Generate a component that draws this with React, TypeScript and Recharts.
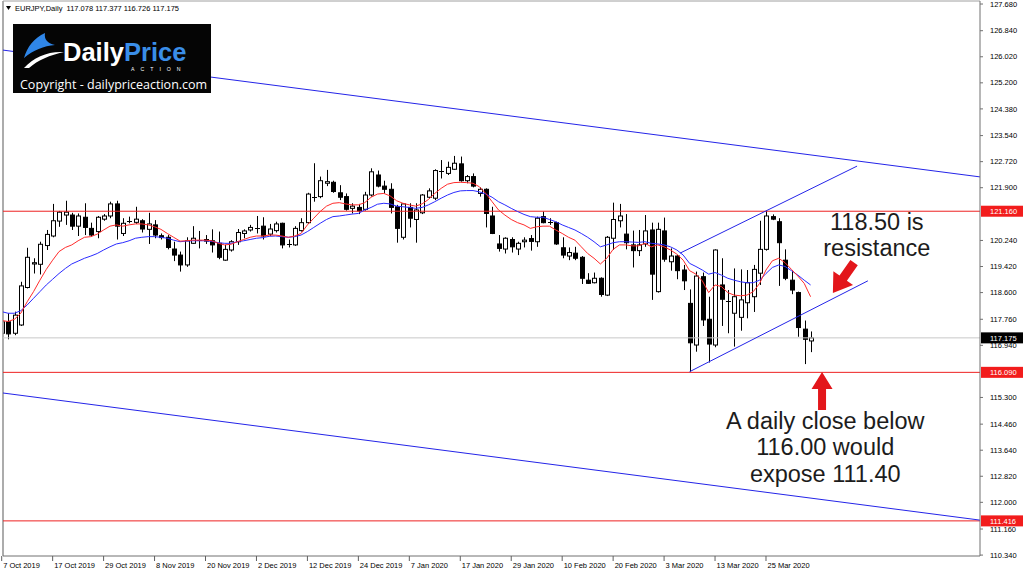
import React from 'react';
import { ComposedChart, Bar, Line, XAxis, YAxis, ReferenceLine, ReferenceDot } from 'recharts';

const opens = [117.32,117.68,117.32,117.58,118.76,119.50,119.49,120.08,120.38,120.85,121.04,121.04,120.69,120.97,120.62,120.52,120.91,121.01,121.39,120.46,120.84,120.81,120.86,120.59,120.73,120.39,120.34,119.97,119.78,119.47,120.15,120.23,120.27,120.23,120.15,119.62,119.94,120.20,120.46,120.57,120.61,120.69,120.44,120.55,120.78,120.13,120.10,120.55,120.80,121.58,121.62,122.04,122.07,121.74,121.62,121.25,121.28,121.22,121.67,122.30,121.95,121.85,121.30,120.34,121.28,120.90,121.11,121.60,121.57,122.39,122.35,122.48,122.65,122.12,122.25,121.72,121.85,121.01,120.13,119.97,120.27,119.97,120.20,120.30,120.20,120.99,120.81,120.80,120.01,119.75,119.84,119.71,118.99,118.91,119.05,118.52,120.31,120.86,120.44,120.10,119.92,120.13,120.57,118.63,120.54,119.57,119.75,119.31,118.26,116.95,119.10,117.76,116.95,118.84,118.34,117.95,117.82,118.28,118.47,119.21,119.96,120.99,120.83,119.62,118.99,118.60,117.45,117.078];
const highs = [117.79,117.95,118.00,118.94,120.01,119.68,120.20,120.57,121.39,121.17,121.49,121.11,121.09,121.41,120.80,121.01,121.07,121.46,121.49,120.94,120.99,121.30,120.91,121.11,120.88,120.46,120.41,120.20,119.89,120.34,120.69,120.54,120.41,120.59,120.52,120.10,120.25,120.60,120.59,120.73,121.01,120.97,120.76,120.83,120.80,120.27,120.69,120.94,121.74,122.67,122.25,122.46,122.12,121.98,121.72,121.41,121.39,121.77,122.51,122.44,122.12,122.04,121.36,121.41,121.41,121.41,121.70,121.88,122.48,122.77,122.72,122.90,122.88,122.30,122.35,121.91,121.88,121.30,120.41,120.34,120.34,120.20,120.34,120.41,120.99,121.15,120.94,120.83,120.34,120.02,120.04,119.75,119.21,119.23,119.08,120.38,121.43,121.39,121.07,120.55,120.57,121.04,120.80,120.80,120.96,119.99,119.78,119.47,118.70,119.26,119.23,118.47,119.96,119.68,118.68,119.36,119.33,119.31,119.47,120.86,121.18,121.06,120.94,119.96,119.31,118.63,117.72,117.377];
const lows = [117.16,117.13,117.26,117.55,118.73,119.20,119.17,119.94,120.34,120.67,120.73,120.57,120.38,120.41,120.36,120.31,120.86,120.94,120.27,120.38,120.78,120.76,120.49,120.13,120.31,120.27,119.96,119.59,119.26,119.41,120.13,119.99,120.13,119.86,119.65,119.60,119.89,120.10,120.31,120.52,120.46,120.27,120.38,120.49,119.99,120.02,120.07,120.52,120.76,121.46,121.57,121.95,121.74,121.51,121.18,121.09,121.07,121.18,121.62,121.91,121.72,121.09,120.17,120.27,120.65,120.17,121.07,121.57,121.51,122.19,122.30,122.46,122.09,122.04,121.91,121.62,120.65,120.44,119.89,119.83,119.86,119.78,120.02,119.92,120.04,120.78,120.73,120.10,119.68,119.62,119.62,118.87,118.87,118.89,118.47,118.49,119.94,120.65,119.96,119.39,119.75,120.04,118.37,118.60,119.57,119.29,119.02,118.68,116.11,116.74,117.55,116.40,116.88,117.55,117.32,116.90,117.40,117.79,117.99,118.84,119.92,120.88,118.81,118.99,118.55,117.21,116.35,116.726];
const closes = [117.68,117.30,117.89,118.81,119.71,119.54,120.12,120.43,120.86,121.13,121.13,120.69,121.01,120.65,120.41,120.97,121.01,121.39,120.69,120.78,120.86,120.91,120.60,120.76,120.41,120.33,120.02,119.78,119.47,120.23,120.31,120.26,120.22,120.10,119.71,119.96,120.20,120.49,120.54,120.65,120.63,120.38,120.60,120.76,120.10,120.11,120.62,120.80,121.70,121.60,122.12,122.09,121.78,121.60,121.22,121.32,121.17,121.67,122.40,121.95,121.85,121.28,120.62,121.39,120.94,121.20,121.67,121.80,122.44,122.41,122.54,122.67,122.12,122.25,121.95,121.85,121.09,120.46,119.99,120.31,120.04,120.15,120.25,120.21,120.94,120.80,120.79,120.13,119.78,119.86,119.68,119.05,118.89,119.05,118.54,120.34,120.90,121.01,120.17,119.92,120.10,120.54,119.18,120.59,119.65,119.75,119.29,118.97,117.02,119.12,117.74,116.98,119.94,118.39,118.32,118.47,118.37,118.91,119.33,119.96,121.01,120.91,120.17,119.05,118.68,117.50,117.13,117.175];
const fastMA = [117.72,117.69,117.76,117.95,118.31,118.63,118.99,119.33,119.62,119.89,120.02,120.10,120.23,120.34,120.36,120.44,120.57,120.69,120.73,120.69,120.73,120.76,120.76,120.73,120.67,120.59,120.46,120.34,120.22,120.23,120.25,120.25,120.25,120.23,120.15,120.10,120.12,120.20,120.27,120.34,120.38,120.38,120.41,120.41,120.38,120.34,120.38,120.46,120.73,120.94,121.15,121.32,121.41,121.43,121.39,121.36,121.36,121.43,121.60,121.70,121.72,121.64,121.49,121.41,121.36,121.32,121.39,121.53,121.72,121.88,122.01,122.06,122.07,122.06,122.04,121.93,121.72,121.46,121.20,121.04,120.90,120.80,120.73,120.62,120.67,120.69,120.69,120.57,120.46,120.34,120.25,120.04,119.83,119.68,119.50,119.68,119.96,120.10,120.10,120.07,120.07,120.15,120.04,120.10,120.04,119.94,119.81,119.62,119.29,119.18,118.97,118.60,118.84,118.79,118.60,118.52,118.50,118.52,118.63,118.89,119.31,119.60,119.68,119.54,119.33,119.12,118.89,118.47];
const slowMA = [118.00,117.95,117.95,118.03,118.21,118.42,118.63,118.84,119.02,119.20,119.36,119.50,119.59,119.68,119.75,119.83,119.94,120.04,120.13,120.17,120.23,120.31,120.34,120.36,120.36,120.34,120.31,120.25,120.20,120.22,120.23,120.23,120.23,120.21,120.17,120.15,120.15,120.20,120.23,120.27,120.31,120.33,120.37,120.38,120.36,120.34,120.36,120.41,120.52,120.65,120.78,120.90,120.99,121.01,121.04,121.07,121.09,121.20,121.28,121.38,121.41,121.39,121.32,121.30,121.28,121.25,121.28,121.36,121.46,121.57,121.67,121.75,121.80,121.81,121.81,121.77,121.70,121.60,121.46,121.36,121.25,121.15,121.06,120.99,120.97,120.97,120.90,120.83,120.73,120.65,120.57,120.46,120.34,120.20,120.04,120.10,120.17,120.20,120.20,120.19,120.18,120.20,120.15,120.13,120.10,120.04,119.94,119.78,119.52,119.42,119.31,119.18,119.23,119.15,119.05,118.99,118.94,118.91,118.91,118.99,119.20,119.39,119.47,119.42,119.29,119.15,118.99,118.84];

const dateTicks = [0, 8, 16, 24, 32, 40, 48, 56, 64, 72, 80, 88, 96, 104, 112, 120];
const dateLabels = ['7 Oct 2019','17 Oct 2019','29 Oct 2019','8 Nov 2019','20 Nov 2019','2 Dec 2019','12 Dec 2019','24 Dec 2019','7 Jan 2020','17 Jan 2020','29 Jan 2020','10 Feb 2020','20 Feb 2020','3 Mar 2020','13 Mar 2020','25 Mar 2020'];
const priceTicks = [127.68,126.84,126.02,125.2,124.38,123.54,122.72,121.9,120.24,119.42,118.6,117.76,116.94,115.3,114.46,113.64,112.82,112.0,111.16,110.34];

const levelPrices = [121.16, 116.09, 111.416];
const lastPrice = 117.175;
// trend lines: [startIndex, startPrice, endIndex, endPrice]
const trendLines: [number, number, number, number][] = [
  [0.204, 126.23, 153.6, 122.24],
  [0.204, 115.44, 153.6, 111.44],
  [108, 116.11, 136.0, 118.97],
  [106.5, 119.84, 134.3, 122.58],
];

const X_DOMAIN: [number, number] = [0.204, 153.6];
const Y_DOMAIN: [number, number] = [110.311, 127.775];

const data = opens.map((o, i) => ({
  i,
  o,
  h: highs[i],
  l: lows[i],
  c: closes[i],
  range: [lows[i], highs[i]],
  fast: fastMA[i],
  slow: slowMA[i],
}));

const RED = '#ee2020';
const TXT = '#1c1c1c';

function Candle(props: any) {
  const { x, y, width, height, payload } = props;
  if (!payload || x == null) return null;
  const { o, h, l, c } = payload;
  const top = Math.min(y, y + height);
  const bot = Math.max(y, y + height);
  const span = h - l || 1;
  const py = (p: number) => top + ((h - p) / span) * (bot - top);
  const cx = Math.round(x + width / 2) + 0.5;
  const yO = py(o);
  const yC = py(c);
  const bTop = Math.min(yO, yC);
  const bBot = Math.max(yO, yC);
  const bull = c >= o;
  return (
    <g>
      <line x1={cx} x2={cx} y1={top} y2={bot} stroke="#000" strokeWidth={1} />
      {bBot - bTop < 1.2 ? (
        <line x1={cx - 2.5} x2={cx + 2.5} y1={Math.round(bTop) + 0.5} y2={Math.round(bTop) + 0.5} stroke="#000" strokeWidth={1} />
      ) : (
        <rect x={cx - 2} y={bTop} width={4} height={bBot - bTop} fill={bull ? '#fff' : '#000'} stroke="#000" strokeWidth={1} />
      )}
    </g>
  );
}

function DateTick(props: any) {
  const { x, payload } = props;
  const idx = dateTicks.indexOf(payload.value);
  return (
    <g>
      <line x1={x} x2={x} y1={556} y2={561} stroke="#606060" strokeWidth={1} />
      <text x={x + 1.5} y={568} fontSize={7.5} fill="#000" textAnchor="start">
        {dateLabels[idx] ?? ''}
      </text>
    </g>
  );
}

function PriceTag(bg: string) {
  return (props: any) => {
    const { cy, price } = props;
    return (
      <g>
        <rect x={981} y={cy - 5.5} width={42} height={11} fill={bg} />
        <text x={990} y={cy + 3} fontSize={7.5} fill="#fff">
          {price.toFixed(3)}
        </text>
      </g>
    );
  };
}

function Arrow(angle: number, len: number, headLen: number, headHalf: number, shaftHalf: number) {
  return (props: any) => {
    const { cx, cy } = props;
    const pts = [
      [0, 0],
      [-headLen, -headHalf],
      [-headLen, -shaftHalf],
      [-len, -shaftHalf],
      [-len, shaftHalf],
      [-headLen, shaftHalf],
      [-headLen, headHalf],
    ]
      .map((p) => p.join(','))
      .join(' ');
    return <polygon points={pts} fill="#e3161b" transform={`translate(${cx},${cy}) rotate(${angle})`} />;
  };
}

function TextBlock(lines: string[], size: number, step: number) {
  return (props: any) => {
    const { cx, cy } = props;
    const base = cy + size * 0.35;
    return (
      <g>
        {lines.map((t, k) => (
          <text key={k} x={cx} y={base + k * step} fontSize={size} fill={TXT} textAnchor="middle" fontFamily="Liberation Sans, Arial, sans-serif">
            {t}
          </text>
        ))}
      </g>
    );
  };
}

function Logo() {
  return (
    <svg width={1024} height={574} style={{ position: 'absolute', left: 0, top: 0, pointerEvents: 'none' }}>
      <polygon points="6,6 11,6 8.5,10" fill="#000" />
      <text x={15} y={11} fontSize={7.5} fill="#000" style={{ whiteSpace: 'pre' }} fontFamily="Liberation Sans, Arial, sans-serif">
        {'EURJPY,Daily  117.078 117.377 116.726 117.175'}
      </text>
      <rect x={13} y={24} width={198} height={69} fill="#050505" />
      <path d="M24,58 C27,47 34,38 45,33 C44,39 47,43 55,45 C44,46 33,50 24,58 Z" fill="#2f86e8" />
      <path d="M24,68 C34,57 48,51 64,52 C50,55 38,60 29,68 Z" fill="#ffffff" />
      <text x={63} y={61} fontSize={25.5} fontWeight="bold" fontFamily="Liberation Sans, Arial, sans-serif">
        <tspan fill="#ffffff">Daily</tspan>
        <tspan fill="#3a8ee8">Price</tspan>
      </text>
      <text x={131} y={70.5} fontSize={5.2} fill="#ffffff" letterSpacing={6} fontFamily="Liberation Sans, Arial, sans-serif">
        ACTION
      </text>
      <text x={20} y={89} fontSize={12.5} fill="#ffffff" fontFamily="Open Sans, sans-serif">
        Copyright - dailypriceaction.com
      </text>
    </svg>
  );
}

export default function App() {
  return (
    <div style={{ position: 'absolute', left: 0, top: 0, width: 1024, height: 574, background: '#fff', fontFamily: 'Liberation Sans, Arial, sans-serif' }}>
      <ComposedChart width={1024} height={574} data={data} margin={{ top: 1, right: 0, bottom: 0, left: 3 }}>
        <XAxis
          type="number"
          dataKey="i"
          domain={X_DOMAIN}
          allowDataOverflow
          ticks={dateTicks}
          interval={0}
          height={18}
          axisLine={{ stroke: '#707070' }}
          tickLine={false}
          tickSize={0}
          tick={<DateTick />}
        />
        <YAxis
          orientation="right"
          type="number"
          domain={Y_DOMAIN}
          allowDataOverflow
          ticks={priceTicks}
          interval={0}
          width={44}
          axisLine={{ stroke: '#707070' }}
          tickLine={{ stroke: '#707070' }}
          tickSize={3}
          tickMargin={7}
          tick={{ fill: '#000', fontSize: 7.5 }}
          tickFormatter={(v: number) => v.toFixed(3)}
        />
        <ReferenceLine x={X_DOMAIN[0]} stroke="#909090" strokeWidth={1.5} />
        <ReferenceLine y={Y_DOMAIN[1]} stroke="#a0a0a0" />
        <ReferenceLine y={lastPrice} stroke="#c8c8c8" />
        {levelPrices.map((p) => (
          <ReferenceLine key={p} y={p} stroke={RED} strokeWidth={1} />
        ))}
        {trendLines.map((t, k) => (
          <ReferenceLine
            key={'t' + k}
            segment={[
              { x: t[0], y: t[1] },
              { x: t[2], y: t[3] },
            ]}
            stroke="#2424e8"
            strokeWidth={1}
            ifOverflow="visible"
          />
        ))}
        <Line dataKey="slow" stroke="#2b2bff" strokeWidth={1} dot={false} type="linear" isAnimationActive={false} />
        <Line dataKey="fast" stroke="#ff2b2b" strokeWidth={1} dot={false} type="linear" isAnimationActive={false} />
        <Bar dataKey="range" barSize={5} shape={(p: any) => <Candle {...p} />} isAnimationActive={false} />
        {levelPrices.map((p) => (
          <ReferenceDot key={'tag' + p} x={X_DOMAIN[1]} y={p} r={0} ifOverflow="visible" shape={(pp: any) => PriceTag('#f21c1c')({ ...pp, price: p })} />
        ))}
        <ReferenceDot x={X_DOMAIN[1]} y={lastPrice} r={0} ifOverflow="visible" shape={(pp: any) => PriceTag('#000')({ ...pp, price: lastPrice })} />
        <ReferenceDot x={137.4} y={120.84} r={0} ifOverflow="visible" shape={TextBlock(['118.50 is', 'resistance'], 23.5, 26.5)} />
        <ReferenceDot x={129.3} y={114.58} r={0} ifOverflow="visible" shape={TextBlock(['A daily close below', '116.00 would', 'expose 111.40'], 23.5, 26.5)} />
        <ReferenceDot x={130.5} y={118.59} r={0} ifOverflow="visible" shape={Arrow(125, 37, 18, 12, 4.5)} />
        <ReferenceDot x={128.8} y={116.1} r={0} ifOverflow="visible" shape={Arrow(-90, 38, 17, 10.5, 4)} />
      </ComposedChart>
      <Logo />
    </div>
  );
}
